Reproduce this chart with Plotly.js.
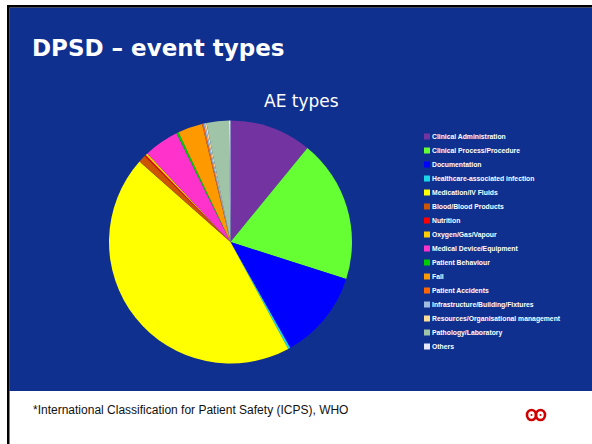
<!DOCTYPE html>
<html>
<head>
<meta charset="utf-8">
<script src="https://cdn.plot.ly/plotly-3.0.1.min.js"></script>
<style>html,body{margin:0;padding:0;background:#fff;}#chart{width:592px;height:444px;}</style>
</head>
<body>
<div id="chart"></div>
<script>
const categories = [
  "Clinical Administration",
  "Clinical Process/Procedure",
  "Documentation",
  "Healthcare-associated infection",
  "Medication/IV Fluids",
  "Blood/Blood Products",
  "Nutrition",
  "Oxygen/Gas/Vapour",
  "Medical Device/Equipment",
  "Patient Behaviour",
  "Fall",
  "Patient Accidents",
  "Infrastructure/Building/Fixtures",
  "Resources/Organisational management",
  "Pathology/Laboratory",
  "Others"
];
const values = [11.0, 19.2, 12.0, 0.3, 44.8, 1.0, 0.2, 0.3, 4.7, 0.3, 3.3, 0.2, 0.2, 0.2, 3.0, 0.2];
const colors = ["#7333A0", "#66FF33", "#0000FF", "#1AD6E6", "#FFFF00", "#CC5500", "#FF0000", "#FFCC00",
                "#FF33CC", "#00CC00", "#FF9900", "#FF6600", "#A0BDE0", "#FFDD99", "#A0C4A8", "#E6E6FF"];
const chartTitle = "AE types";
const slideTitle = "DPSD \u2013 event types";
const footnote = "*International Classification for Patient Safety (ICPS), WHO";

const W = 592, H = 444;
const px = x => x / W;
const py = y => 1 - y / H;

const shapes = [
  {type: "rect", xref: "paper", yref: "paper", x0: px(9.5), x1: px(592), y0: py(7.5), y1: py(391),
   fillcolor: "#103090", line: {width: 0}, layer: "below"},
  {type: "rect", xref: "paper", yref: "paper", x0: px(7), x1: px(9.5), y0: py(5), y1: py(444),
   fillcolor: "#000000", line: {width: 0}, layer: "below"},
  {type: "rect", xref: "paper", yref: "paper", x0: px(7), x1: px(592), y0: py(5), y1: py(7.5),
   fillcolor: "#000000", line: {width: 0}, layer: "below"},
  // logo
  {type: "circle", xref: "paper", yref: "paper", x0: px(527), x1: px(536), y0: py(410), y1: py(420),
   line: {color: "#D00000", width: 2.6}},
  {type: "circle", xref: "paper", yref: "paper", x0: px(536), x1: px(545), y0: py(410), y1: py(420),
   line: {color: "#D00000", width: 2.6}},
  {type: "circle", xref: "paper", yref: "paper", x0: px(530.5), x1: px(532.5), y0: py(414), y1: py(416),
   fillcolor: "#D00000", line: {width: 0}},
  {type: "circle", xref: "paper", yref: "paper", x0: px(539.5), x1: px(541.5), y0: py(414), y1: py(416),
   fillcolor: "#D00000", line: {width: 0}}
];

const annotations = [
  {text: slideTitle, xref: "paper", yref: "paper", x: px(30), y: py(48), xanchor: "left", yanchor: "middle",
   showarrow: false, font: {family: "DejaVu Sans", size: 23, color: "#FFFFFF", weight: "bold"}},
  {text: chartTitle, xref: "paper", yref: "paper", x: px(301), y: py(101), xanchor: "center", yanchor: "middle",
   showarrow: false, font: {family: "DejaVu Sans", size: 17, color: "#FFFFFF"}},
  {text: footnote, xref: "paper", yref: "paper", x: px(31), y: py(410), xanchor: "left", yanchor: "middle",
   showarrow: false, font: {family: "Liberation Sans, Arial", size: 12, color: "#111111"}}
];

const trace = {
  type: "pie",
  labels: categories,
  values: values,
  marker: {colors: colors, line: {width: 0}},
  sort: false,
  direction: "clockwise",
  rotation: 0,
  textinfo: "none",
  hoverinfo: "label+percent",
  domain: {x: [px(109), px(352)], y: [py(363.5), py(120.5)]}
};

const layout = {
  width: W, height: H,
  margin: {l: 0, r: 0, t: 0, b: 0},
  paper_bgcolor: "#FFFFFF",
  plot_bgcolor: "rgba(0,0,0,0)",
  showlegend: true,
  legend: {
    x: px(407), y: py(128), xanchor: "left", yanchor: "top",
    bgcolor: "rgba(0,0,0,0)", borderwidth: 0,
    font: {family: "Liberation Sans Narrow, Liberation Sans, Arial", size: 6.8, color: "#FFFFFF", weight: "bold"},
    itemclick: false, itemdoubleclick: false
  },
  shapes: shapes,
  annotations: annotations
};

const gd = document.getElementById("chart");
Plotly.newPlot(gd, [trace], layout, {displayModeBar: false, staticPlot: true}).then(() => {
  const items = gd.querySelectorAll(".legend .traces");
  let base = 0;
  if (items.length) {
    const m = /translate\(\s*([-\d.]+)[ ,]+([-\d.]+)/.exec(items[0].getAttribute("transform") || "");
    if (m) base = parseFloat(m[2]);
  }
  items.forEach((g, i) => {
    g.setAttribute("transform", "translate(0," + (base - 6 + i * 14) + ")");
    const p = g.querySelector(".legendpoints path");
    if (p) p.setAttribute("transform", "translate(20,0) scale(0.5)");
    const t = g.querySelector(".legendtext");
    if (t) t.setAttribute("x", "25");
  });
});
</script>
</body>
</html>
